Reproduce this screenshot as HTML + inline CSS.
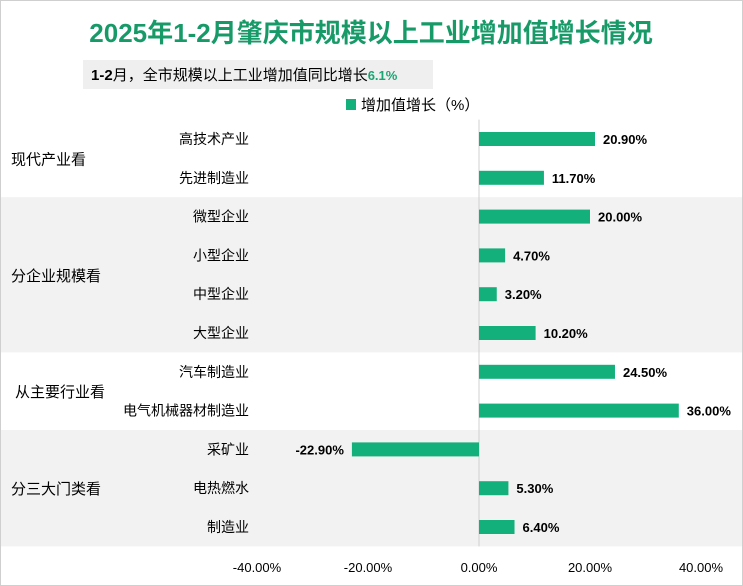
<!DOCTYPE html>
<html><head><meta charset="utf-8"><style>
body{margin:0;background:#fff;font-family:"Liberation Sans","Noto Sans CJK SC",sans-serif;}
#wrap{position:relative;width:741px;height:584px;border:1px solid #cfcfcf;overflow:hidden;}
</style></head><body>
<div id="wrap">
<svg id="chart" width="741" height="584"></svg>
</div>
<script>
const categories=["高技术产业","先进制造业","微型企业","小型企业","中型企业","大型企业","汽车制造业","电气机械器材制造业","采矿业","电热燃水","制造业"];
const values=[20.9,11.7,20.0,4.7,3.2,10.2,24.5,36.0,-22.9,5.3,6.4];
const groups=["现代产业看","分企业规模看","从主要行业看","分三大门类看"];
const groupSizes=[2,4,2,3];
const ticks=[-40,-20,0,20,40];
const ns="http://www.w3.org/2000/svg";
const svg=document.getElementById('chart');
const x0=478, scale=5.55, top0=118.6, rowH=38.8;
const X=v=>x0+v*scale;
const Y=i=>top0+i*rowH;
function el(t,a,p){const e=document.createElementNS(ns,t);for(const k in a)e.setAttribute(k,a[k]);(p||svg).appendChild(e);return e;}
let start=0;
groups.forEach((g,gi)=>{
  const bg=el('rect',{x:0,y:Y(start),width:741,height:groupSizes[gi]*rowH,fill:gi%2?'#f2f2f2':'#ffffff'});
  
  
  const t=el('text',{x:gi==2?14:10,y:Y(start)+groupSizes[gi]*rowH/2+6,'font-size':15,fill:'#000'});
  t.textContent=g;
  
  
  start+=groupSizes[gi];
});
const title=el('text',{x:370,y:41,'text-anchor':'middle','font-size':26,'font-weight':'bold',fill:'#179a68'});
title.textContent='2025年1-2月肇庆市规模以上工业增加值增长情况';


const sb=el('rect',{x:82,y:59,width:350,height:29,fill:'#efefef'});


const st=el('text',{x:90,y:79,'font-size':15,fill:'#000'});
st.innerHTML='<tspan font-weight="bold">1-2</tspan>月，全市规模以上工业增加值同比增长<tspan fill="#1aa673" font-weight="bold" font-size="13">6.1%</tspan>';


const lr=el('rect',{x:345,y:98,width:10,height:11,fill:'#13b07c'});


const lt=el('text',{x:360,y:109,'font-size':15,fill:'#000'});
lt.textContent='增加值增长（%）';


const ax=el('line',{x1:x0,y1:top0,x2:x0,y2:Y(categories.length),stroke:'#d0d0d0','stroke-width':1});


categories.forEach((c,i)=>{
  const cy=Y(i)+rowH/2;
  const cl=el('text',{x:248,y:cy+5,'text-anchor':'end','font-size':14,fill:'#000'});
  cl.textContent=c;
  
  
  const v=values[i];
  const b=el('rect',{x:Math.min(X(0),X(v)),y:cy-7,width:Math.abs(X(v)-X(0)),height:14,fill:'#13b07c'});
  
  
  const vl=el('text',{x:v>=0?X(v)+8:X(v)-8,y:cy+5,'text-anchor':v>=0?'start':'end','font-size':13,'font-weight':'bold',fill:'#000'});
  vl.textContent=v.toFixed(2)+'%';
  
  
});
ticks.forEach(t=>{
  const tl=el('text',{x:X(t),y:571,'text-anchor':'middle','font-size':13,fill:'#000'});
  tl.textContent=t.toFixed(2)+'%';
  
  
});
</script>
</body></html>
